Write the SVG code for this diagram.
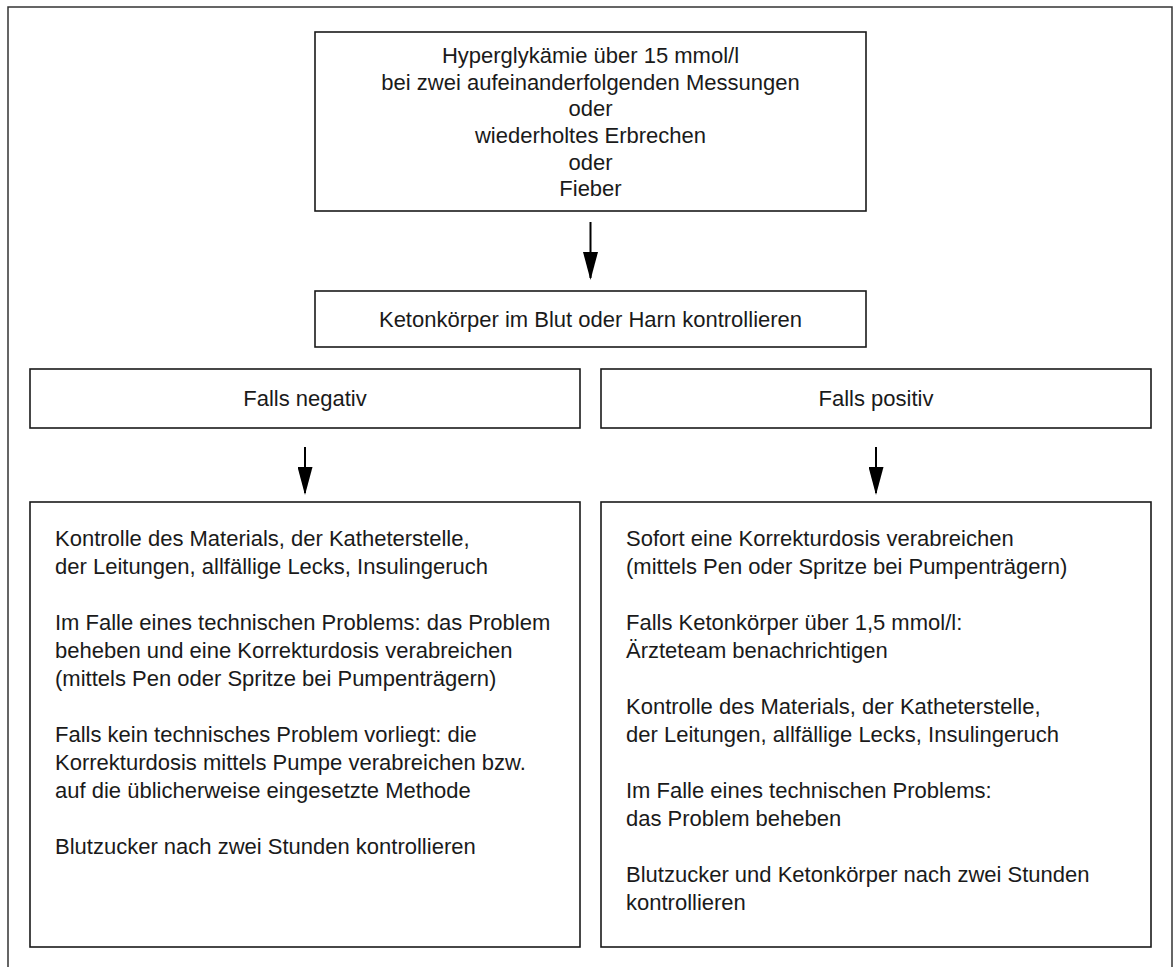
<svg xmlns="http://www.w3.org/2000/svg" width="1176" height="967" viewBox="0 0 1176 967">
<style>
.box{fill:#fff;stroke:#1a1a1a;stroke-width:1.6}
.frame{fill:none;stroke:#333;stroke-width:1.5}
.t{font-family:"Liberation Sans",Arial,sans-serif;font-size:22px;fill:#1a1a1a}
.c{text-anchor:middle}
.conn{stroke:#000;stroke-width:2;fill:none;marker-end:url(#ah)}
</style>
<defs>
<marker id="ah" viewBox="0 0 28 15" refX="26" refY="7.5" markerWidth="28" markerHeight="15" markerUnits="userSpaceOnUse" orient="auto">
<path d="M0,0 L28,7.5 L0,15 Z" fill="#000"/>
</marker>
</defs>
<rect width="1176" height="967" fill="#fff"/>
<path class="frame" d="M8,967 V7 H1172 V967"/>
<g id="n-start">
<rect class="box" x="315" y="32" width="551" height="179"/>
<text class="t c" x="590.5" y="63">Hyperglykämie über 15 mmol/l</text>
<text class="t c" x="590.5" y="90">bei zwei aufeinanderfolgenden Messungen</text>
<text class="t c" x="590.5" y="116">oder</text>
<text class="t c" x="590.5" y="143">wiederholtes Erbrechen</text>
<text class="t c" x="590.5" y="170">oder</text>
<text class="t c" x="590.5" y="196">Fieber</text>
</g>
<g id="n-keton">
<rect class="box" x="315" y="291" width="551" height="56"/>
<text class="t c" x="590.5" y="327">Ketonkörper im Blut oder Harn kontrollieren</text>
</g>
<g id="n-neg">
<rect class="box" x="30" y="369" width="550" height="59"/>
<text class="t c" x="305" y="406">Falls negativ</text>
</g>
<g id="n-pos">
<rect class="box" x="601" y="369" width="550" height="59"/>
<text class="t c" x="876" y="406">Falls positiv</text>
</g>
<g id="n-neg-actions">
<rect class="box" x="30" y="502" width="550" height="445"/>
<text class="t" x="55" y="546">Kontrolle des Materials, der Katheterstelle,</text>
<text class="t" x="55" y="574">der Leitungen, allfällige Lecks, Insulingeruch</text>
<text class="t" x="55" y="630">Im Falle eines technischen Problems: das Problem</text>
<text class="t" x="55" y="658">beheben und eine Korrekturdosis verabreichen</text>
<text class="t" x="55" y="686">(mittels Pen oder Spritze bei Pumpenträgern)</text>
<text class="t" x="55" y="742">Falls kein technisches Problem vorliegt: die</text>
<text class="t" x="55" y="770">Korrekturdosis mittels Pumpe verabreichen bzw.</text>
<text class="t" x="55" y="798">auf die üblicherweise eingesetzte Methode</text>
<text class="t" x="55" y="854">Blutzucker nach zwei Stunden kontrollieren</text>
</g>
<g id="n-pos-actions">
<rect class="box" x="601" y="502" width="550" height="445"/>
<text class="t" x="626" y="546">Sofort eine Korrekturdosis verabreichen</text>
<text class="t" x="626" y="574">(mittels Pen oder Spritze bei Pumpenträgern)</text>
<text class="t" x="626" y="630">Falls Ketonkörper über 1,5 mmol/l:</text>
<text class="t" x="626" y="658">Ärzteteam benachrichtigen</text>
<text class="t" x="626" y="714">Kontrolle des Materials, der Katheterstelle,</text>
<text class="t" x="626" y="742">der Leitungen, allfällige Lecks, Insulingeruch</text>
<text class="t" x="626" y="798">Im Falle eines technischen Problems:</text>
<text class="t" x="626" y="826">das Problem beheben</text>
<text class="t" x="626" y="882">Blutzucker und Ketonkörper nach zwei Stunden</text>
<text class="t" x="626" y="910">kontrollieren</text>
</g>
<g id="connectors">
<line class="conn" x1="590.5" y1="222" x2="590.5" y2="278"/>
<line class="conn" x1="305" y1="447" x2="305" y2="493"/>
<line class="conn" x1="876" y1="447" x2="876" y2="493"/>
</g>
</svg>
